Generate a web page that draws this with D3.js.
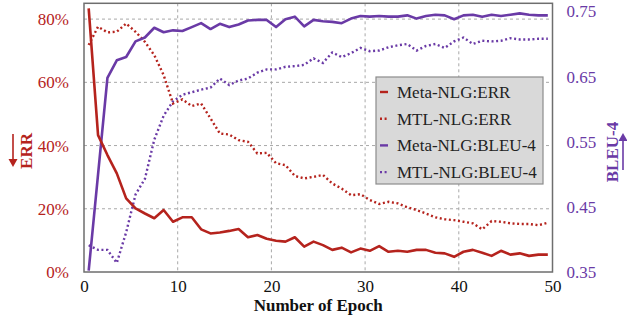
<!DOCTYPE html>
<html><head><meta charset="utf-8">
<script src="https://cdn.jsdelivr.net/npm/d3@7/dist/d3.min.js"></script>
<style>body{margin:0;background:#fff}svg{display:block}svg text{font-family:"Liberation Serif","Times New Roman",Times,"Nimbus Roman","DejaVu Serif",serif !important}</style>
</head><body><svg id="c" width="627" height="316"></svg>
<script>
const epochs = d3.range(50).map(i => i + 0.5);
const metaErr = [83.4,43.3,37.0,31.2,23.3,20.1,18.5,17.0,19.6,15.9,17.3,17.3,13.5,12.2,12.5,13.0,13.6,11.0,11.7,10.5,9.9,9.6,11.0,8.0,9.6,8.5,7.0,7.7,6.2,7.4,6.7,8.2,6.4,6.7,6.4,7.0,7.0,6.1,5.9,4.8,6.4,7.0,6.1,5.1,6.7,5.5,5.9,5.1,5.5,5.5];
const mtlErr = [71.8,77.6,75.8,76.0,78.6,76.0,72.8,68.6,62.3,53.3,54.6,52.5,53.3,48.6,43.8,43.5,41.7,41.2,37.5,37.7,34.4,33.8,30.4,29.6,30.1,30.7,28.0,26.4,24.3,24.6,22.8,21.5,22.2,21.7,20.5,19.6,18.5,17.3,16.7,16.4,15.9,15.4,13.5,16.1,15.9,15.4,15.2,15.2,14.8,15.6];
const metaBleu = [0.352,0.500,0.648,0.675,0.680,0.704,0.710,0.725,0.718,0.721,0.720,0.726,0.732,0.723,0.731,0.726,0.730,0.736,0.737,0.737,0.726,0.738,0.742,0.727,0.737,0.735,0.734,0.732,0.739,0.743,0.742,0.743,0.742,0.742,0.744,0.739,0.743,0.745,0.744,0.738,0.744,0.745,0.742,0.745,0.743,0.745,0.747,0.745,0.744,0.744];
const mtlBleu = [0.391,0.384,0.384,0.364,0.411,0.469,0.493,0.553,0.590,0.612,0.622,0.626,0.630,0.633,0.647,0.637,0.644,0.647,0.656,0.661,0.661,0.665,0.666,0.668,0.678,0.671,0.687,0.680,0.686,0.694,0.689,0.690,0.695,0.698,0.700,0.690,0.697,0.700,0.694,0.704,0.710,0.700,0.705,0.704,0.705,0.709,0.707,0.707,0.708,0.708];
const xTicks = [0,10,20,30,40,50];
const errTicks = [0,20,40,60,80];
const bleuTicks = [0.35,0.45,0.55,0.65,0.75];
const seriesNames = ["Meta-NLG:ERR","MTL-NLG:ERR","Meta-NLG:BLEU-4","MTL-NLG:BLEU-4"];

const RED = "#b5231d", PURPLE = "#6a3aa6";
const FONT = "'Liberation Serif','Times New Roman',Times,'DejaVu Serif',serif";
const L = 84, R = 552.5, T = 3.3, B = 272;
const svg = d3.select("#c");
const x = d3.scaleLinear().domain([0,50]).range([L,R]);
const yE = d3.scaleLinear().domain([0,85]).range([B,T]);
const yB = d3.scaleLinear().domain([0.35,0.7625]).range([B,T]);

// grid
const g = svg.append("g");
g.selectAll(".vx").data(xTicks.slice(1,-1)).join("line")
  .attr("x1",d=>x(d)).attr("x2",d=>x(d)).attr("y1",T).attr("y2",B)
  .attr("stroke","#a8a8a8").attr("stroke-dasharray","3,3").attr("stroke-width",1);
g.selectAll(".hy").data(errTicks.slice(1)).join("line")
  .attr("x1",L).attr("x2",R).attr("y1",d=>yE(d)).attr("y2",d=>yE(d))
  .attr("stroke","#a8a8a8").attr("stroke-dasharray","3,3").attr("stroke-width",1);

// axes
const xAxis = d3.axisBottom(x).tickValues(xTicks).tickSize(0).tickPadding(8).tickFormat(d3.format("d"));
const ax = svg.append("g").attr("transform",`translate(0,${B})`).call(xAxis).attr("font-family",FONT);
ax.select(".domain").remove();
ax.selectAll("text").attr("font-size",17).attr("fill","#111").style("font-family",FONT);

const yAxisL = d3.axisLeft(yE).tickValues(errTicks).tickSize(0).tickPadding(15).tickFormat(d=>d+"%");
const al = svg.append("g").attr("transform",`translate(${L},0)`).call(yAxisL).attr("font-family",FONT);
al.select(".domain").remove();
al.selectAll("text").attr("font-size",17).attr("fill",RED).style("font-family",FONT);

const yAxisR = d3.axisRight(yB).tickValues(bleuTicks).tickSize(0).tickPadding(14).tickFormat(d3.format(".2f"));
const ar = svg.append("g").attr("transform",`translate(${R},0)`).call(yAxisR).attr("font-family",FONT);
ar.select(".domain").remove();
ar.selectAll("text").attr("font-size",17).attr("fill",PURPLE).style("font-family",FONT);

// lines
const lineE = d3.line().x((d,i)=>x(epochs[i])).y(d=>yE(d));
const lineB = d3.line().x((d,i)=>x(epochs[i])).y(d=>yB(d));
const plot = svg.append("g");
plot.append("path").datum(mtlBleu).attr("d",lineB).attr("fill","none").attr("stroke",PURPLE).attr("stroke-width",2.4).attr("stroke-dasharray","2,2.6");
plot.append("path").datum(mtlErr).attr("d",lineE).attr("fill","none").attr("stroke",RED).attr("stroke-width",2.4).attr("stroke-dasharray","2,2.6");
plot.append("path").datum(metaBleu).attr("d",lineB).attr("fill","none").attr("stroke",PURPLE).attr("stroke-width",2.6).attr("stroke-linejoin","round");
plot.append("path").datum(metaErr).attr("d",lineE).attr("fill","none").attr("stroke",RED).attr("stroke-width",2.6).attr("stroke-linejoin","round");

// frame
svg.append("rect").attr("x",L).attr("y",T).attr("width",R-L).attr("height",B-T)
  .attr("fill","none").attr("stroke","#6e6e6e").attr("stroke-width",1.5);

// axis titles
svg.append("text").attr("x",(L+R)/2).attr("y",311).attr("text-anchor","middle").style("font-family",FONT)
  .attr("font-size",17).attr("font-weight","bold").attr("fill","#111").text("Number of Epoch");

svg.append("text").attr("transform","translate(32,151) rotate(-90)").attr("text-anchor","middle").style("font-family",FONT)
  .attr("font-size",17).attr("font-weight","bold").attr("fill",RED).text("ERR");
svg.append("line").attr("x1",13).attr("x2",13).attr("y1",134).attr("y2",161).attr("stroke",RED).attr("stroke-width",1.6);
svg.append("path").attr("d","M8.5,159 L17.5,159 L13,167 Z").attr("fill",RED);

svg.append("text").attr("transform","translate(618,152) rotate(-90)").attr("text-anchor","middle").style("font-family",FONT)
  .attr("font-size",17).attr("font-weight","bold").attr("fill",PURPLE).text("BLEU-4");
svg.append("line").attr("x1",623).attr("x2",623).attr("y1",170).attr("y2",139).attr("stroke",PURPLE).attr("stroke-width",1.6);
svg.append("path").attr("d","M618.5,141 L627.5,141 L623,133 Z").attr("fill",PURPLE);

// legend
const lg = svg.append("g");
lg.append("rect").attr("x",376).attr("y",77).attr("width",167).attr("height",107)
  .attr("fill","#d9d9d9").attr("stroke","#8c8c8c").attr("stroke-width",1.2);
const legColors = [RED,RED,PURPLE,PURPLE];
const legDash = [null,"2,2.6",null,"2,2.6"];
seriesNames.forEach((name,i)=>{
  const cy = 92 + i*26.7;
  lg.append("line").attr("x1",380).attr("x2",388).attr("y1",cy).attr("y2",cy)
    .attr("stroke",legColors[i]).attr("stroke-width",2.4).attr("stroke-dasharray",legDash[i]);
  lg.append("text").attr("x",397).attr("y",cy+6).style("font-family",FONT).attr("font-size",17).attr("fill","#222").text(name);
});
</script></body></html>
